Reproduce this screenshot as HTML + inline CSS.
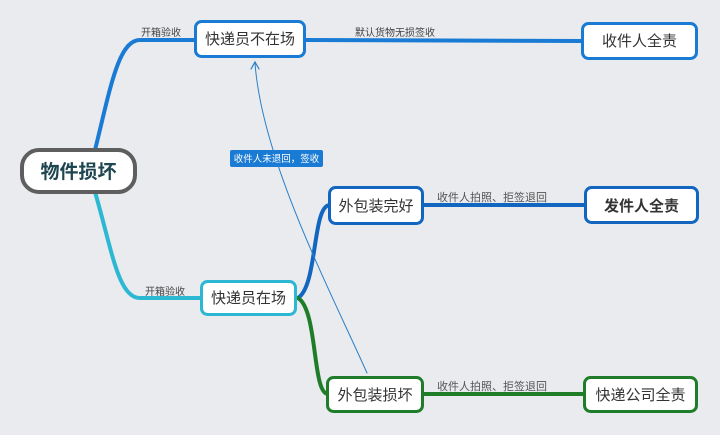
<!DOCTYPE html>
<html><head><meta charset="utf-8"><style>
body{margin:0;background:#e9ebee;}
svg{display:block}
text{font-family:"Liberation Sans","Noto Sans CJK SC",sans-serif;}
</style></head><body>
<svg width="720" height="435" viewBox="0 0 720 435" xmlns="http://www.w3.org/2000/svg">
<rect width="720" height="435" fill="#e9ebee"/>
<g fill="none" stroke-linecap="round">
<path d="M95,150 C110,90 118,40 140,40 L196,40" stroke="#1a7bd4" stroke-width="4"/>
<path d="M95,192 C112,250 118,298 140,298 L202,298" stroke="#2cb8d2" stroke-width="4"/>
<path d="M306,40 L582,41" stroke="#1a7bd4" stroke-width="4"/>
<path d="M298,298 C318,285 312,205 330,205" stroke="#1266c0" stroke-width="4"/>
<path d="M298,298 C318,310 312,394 328,394" stroke="#1f7d2a" stroke-width="4"/>
<path d="M424,205 L586,205" stroke="#1266c0" stroke-width="4"/>
<path d="M424,394 L585,394" stroke="#1f7d2a" stroke-width="4"/>
<path d="M367,373 C330,290 262,160 255,63" stroke="#2a7fc8" stroke-width="1"/>
<path d="M251,69 L255,62 L259,69" stroke="#2a7fc8" stroke-width="1.2"/>
</g>
<g font-size="10" fill="#444">
<text x="141" y="36">开箱验收</text>
<text x="145" y="295">开箱验收</text>
<text x="355" y="36">默认货物无损签收</text>
<text x="437" y="201" font-size="11" fill="#555">收件人拍照、拒签退回</text>
<text x="437" y="390" font-size="11" fill="#555">收件人拍照、拒签退回</text>
</g>
<rect x="230" y="150" width="93" height="17" rx="2" fill="#1a7bd4"/>
<text x="276.5" y="162" font-size="9.5" fill="#fff" text-anchor="middle">收件人未退回，签收</text>
<rect x="22" y="150" width="113" height="42" rx="17" fill="#fff" stroke="#5e5e5e" stroke-width="4"/>
<text x="78.5" y="178" font-size="19" font-weight="bold" fill="#1e4650" text-anchor="middle">物件损坏</text>
<g font-size="15" fill="#333" text-anchor="middle">
<rect x="195.5" y="21.5" width="109" height="35" rx="6" fill="#fff" stroke="#1a7bd4" stroke-width="3"/>
<text x="250" y="44">快递员不在场</text>
<rect x="582.5" y="23.5" width="114" height="35" rx="6" fill="#fff" stroke="#1a7bd4" stroke-width="3"/>
<text x="639.5" y="46">收件人全责</text>
<rect x="201.5" y="281.5" width="94" height="33" rx="6" fill="#fff" stroke="#2cb8d2" stroke-width="3"/>
<text x="248.5" y="303">快递员在场</text>
<rect x="329.5" y="187.5" width="93" height="36" rx="6" fill="#fff" stroke="#1266c0" stroke-width="3"/>
<text x="376" y="211">外包装完好</text>
<rect x="585.5" y="187.5" width="112" height="35" rx="6" fill="#fff" stroke="#1266c0" stroke-width="3"/>
<text x="641.5" y="211" font-weight="bold">发件人全责</text>
<rect x="327.5" y="377.5" width="95" height="34" rx="6" fill="#fff" stroke="#1f7d2a" stroke-width="3"/>
<text x="375" y="400">外包装损坏</text>
<rect x="584.5" y="377.5" width="112" height="34" rx="6" fill="#fff" stroke="#1f7d2a" stroke-width="3"/>
<text x="640.5" y="400">快递公司全责</text>
</g>
</svg>
</body></html>
